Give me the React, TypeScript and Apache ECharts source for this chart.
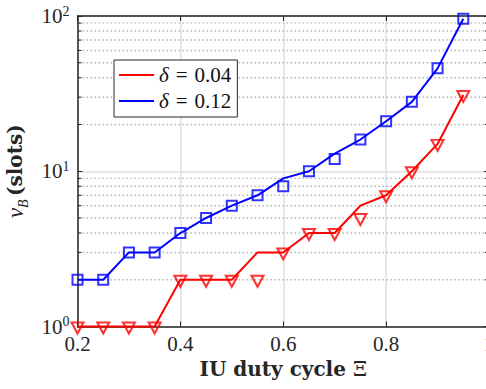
import { useEffect, useRef } from "react";
import * as echarts from "echarts";

// IU duty cycle values (x)
const dutyCycle = [0.2, 0.25, 0.3, 0.35, 0.4, 0.45, 0.5, 0.55, 0.6, 0.65, 0.7, 0.75, 0.8, 0.85, 0.9, 0.95];

// delta = 0.04: analytical curve and simulated points
const lowDeltaCurve = [1, 1, 1, 1, 2, 2, 2, 3, 3, 4, 4, 6, 7, 10, 15, 31];
const lowDeltaSim = [1, 1, 1, 1, 2, 2, 2, 2, 3, 4, 4, 5, 7, 10, 15, 31];

// delta = 0.12: analytical curve and simulated points
const highDeltaCurve = [2, 2, 3, 3, 4, 5, 6, 7, 9, 10, 13, 16, 21, 28, 46, 96];
const highDeltaSim = [2, 2, 3, 3, 4, 5, 6, 7, 8, 10, 12, 16, 21, 28, 46, 96];

const legendNames = ["δ = 0.04", "δ = 0.12"];

// minor log gridlines within each decade
const minorValues = [2, 3, 4, 5, 6, 7, 8, 9, 20, 30, 40, 50, 60, 70, 80, 90];

const X_MIN = 0.2;
const X_MAX = 1;
const Y_MIN = 1;
const Y_MAX = 100;

const AXIS = "#262626";
const MAJOR_GRID = "#dedede";
const MINOR_GRID = "#b8b8b8";
const NUM_FONT = "Liberation Serif";
const TITLE_FONT = "DejaVu Serif";

const pairs = (ys: number[]) => dutyCycle.map((x, i) => [x, ys[i]]);

export default function App() {
  const ref = useRef<HTMLDivElement>(null);

  useEffect(() => {
    if (!ref.current) return;
    const chart = echarts.init(ref.current, null, { renderer: "svg" });

    const option: any = {
      animation: false,
      backgroundColor: "#ffffff",
      grid: {
        left: 77.5,
        top: 16,
        right: -3,
        bottom: 62.5,
        containLabel: false,
        outerBoundsMode: "none",
      },
      legend: {
        data: legendNames,
        orient: "vertical",
        left: 114,
        top: 60,
        padding: [4.5, 6, 5.5, 5],
        itemGap: 5,
        itemWidth: 35,
        itemHeight: 2,
        icon: "rect",
        backgroundColor: "#ffffff",
        borderColor: AXIS,
        borderWidth: 1,
        borderRadius: 0,
        selectedMode: false,
        formatter: (name: string) => `{i|δ}{e|=}${name.split("=")[1].trim()}`,
        textStyle: {
          fontFamily: NUM_FONT,
          fontSize: 21,
          color: "#111",
          rich: {
            i: { fontFamily: NUM_FONT, fontStyle: "italic", fontSize: 21, color: "#111" },
            e: { fontFamily: NUM_FONT, fontSize: 21, color: "#111", padding: [0, 7, 0, 7] },
          },
        },
      },
      xAxis: [
        {
          type: "value",
          min: X_MIN,
          max: X_MAX,
          interval: 0.2,
          name: "{b|IU duty cycle }{m|Ξ}",
          nameLocation: "middle",
          nameGap: 32,
          nameTextStyle: {
            rich: {
              b: { fontFamily: TITLE_FONT, fontWeight: "bold", fontSize: 20, color: AXIS },
              m: { fontFamily: TITLE_FONT, fontSize: 20, color: AXIS },
            },
          },
          axisLine: { show: true, lineStyle: { color: AXIS, width: 1.5 } },
          axisTick: { show: true, inside: true, length: 5, lineStyle: { color: AXIS, width: 1 } },
          axisLabel: {
            margin: 7,
            fontFamily: NUM_FONT,
            fontSize: 21,
            color: AXIS,
            formatter: (v: number) => String(parseFloat(v.toFixed(2))),
          },
          splitLine: { show: true, lineStyle: { color: MAJOR_GRID, width: 1.5 } },
        },
        {
          type: "value",
          position: "top",
          min: X_MIN,
          max: X_MAX,
          interval: 0.2,
          axisLine: { show: true, onZero: false, lineStyle: { color: AXIS, width: 1.5 } },
          axisTick: { show: true, inside: true, length: 5, lineStyle: { color: AXIS, width: 1 } },
          axisLabel: { show: false },
          splitLine: { show: false },
        },
      ],
      yAxis: [
        {
          type: "log",
          logBase: 10,
          min: Y_MIN,
          max: Y_MAX,
          name: "{n|ν}{sub|B} {b|(slots)}",
          nameLocation: "middle",
          nameGap: 42,
          nameTextStyle: {
            rich: {
              n: { fontFamily: NUM_FONT, fontStyle: "italic", fontSize: 23, color: AXIS },
              sub: {
                fontFamily: NUM_FONT,
                fontStyle: "italic",
                fontSize: 14,
                color: AXIS,
                verticalAlign: "bottom",
                padding: [0, 0, -4, 0],
              },
              b: { fontFamily: TITLE_FONT, fontWeight: "bold", fontSize: 20, color: AXIS },
            },
          },
          axisLine: { show: true, onZero: false, lineStyle: { color: AXIS, width: 1.5 } },
          axisTick: { show: true, inside: true, length: 5, lineStyle: { color: AXIS, width: 1 } },
          axisLabel: {
            margin: 8,
            formatter: (v: number) => `{b|10}{s|${Math.round(Math.log10(v))}}`,
            rich: {
              b: { fontFamily: NUM_FONT, fontSize: 21, color: AXIS, lineHeight: 24 },
              s: { fontFamily: NUM_FONT, fontSize: 14, color: AXIS, verticalAlign: "top", lineHeight: 14 },
            },
          },
          splitLine: { show: true, lineStyle: { color: MAJOR_GRID, width: 1.5 } },
        },
        {
          type: "log",
          logBase: 10,
          position: "right",
          min: Y_MIN,
          max: Y_MAX,
          axisLine: { show: true, onZero: false, lineStyle: { color: AXIS, width: 1.5 } },
          axisTick: { show: true, inside: true, length: 5, lineStyle: { color: AXIS, width: 1 } },
          axisLabel: { show: false },
          splitLine: { show: false },
        },
      ],
      series: [
        {
          // dotted minor gridlines with short minor ticks on both y axes
          type: "custom",
          name: "minor",
          z: 1,
          silent: true,
          clip: false,
          data: minorValues.map((v) => [X_MIN, v]),
          encode: { x: 0, y: 1 },
          renderItem: (params: any, api: any) => {
            const p = api.coord([api.value(0), api.value(1)]);
            const cs = params.coordSys;
            const y = p[1];
            return {
              type: "group",
              children: [
                {
                  type: "line",
                  shape: { x1: cs.x + 1, y1: y, x2: cs.x + cs.width, y2: y },
                  style: { stroke: MINOR_GRID, lineWidth: 1.4, lineDash: [1.6, 2.4] },
                },
                {
                  type: "line",
                  shape: { x1: cs.x, y1: y, x2: cs.x + 4, y2: y },
                  style: { stroke: AXIS, lineWidth: 1 },
                },
                {
                  type: "line",
                  shape: { x1: cs.x + cs.width - 4, y1: y, x2: cs.x + cs.width, y2: y },
                  style: { stroke: AXIS, lineWidth: 1 },
                },
              ],
            };
          },
        },
        {
          name: legendNames[0],
          type: "line",
          data: pairs(lowDeltaCurve),
          symbol: "none",
          clip: false,
          z: 3,
          lineStyle: { color: "#ff0000", width: 2 },
          itemStyle: { color: "#ff0000" },
        },
        {
          name: legendNames[1],
          type: "line",
          data: pairs(highDeltaCurve),
          symbol: "none",
          clip: false,
          z: 3,
          lineStyle: { color: "#0000ff", width: 2 },
          itemStyle: { color: "#0000ff" },
        },
        {
          name: "sim 0.04",
          type: "scatter",
          data: pairs(lowDeltaSim),
          symbol: "triangle",
          symbolRotate: 180,
          symbolSize: [12, 11],
          symbolOffset: [0, 1.5],
          clip: false,
          z: 4,
          itemStyle: { color: "rgba(0,0,0,0)", borderColor: "#ff0000", borderWidth: 2 },
        },
        {
          name: "sim 0.12",
          type: "scatter",
          data: pairs(highDeltaSim),
          symbol: "rect",
          symbolSize: 10,
          clip: false,
          z: 4,
          itemStyle: { color: "rgba(0,0,0,0)", borderColor: "#0000ff", borderWidth: 2 },
        },
      ],
    };

    chart.setOption(option);
    return () => chart.dispose();
  }, []);

  return (
    <div
      ref={ref}
      style={{ position: "fixed", left: 0, top: 0, width: 486, height: 389, background: "#fff" }}
    />
  );
}
